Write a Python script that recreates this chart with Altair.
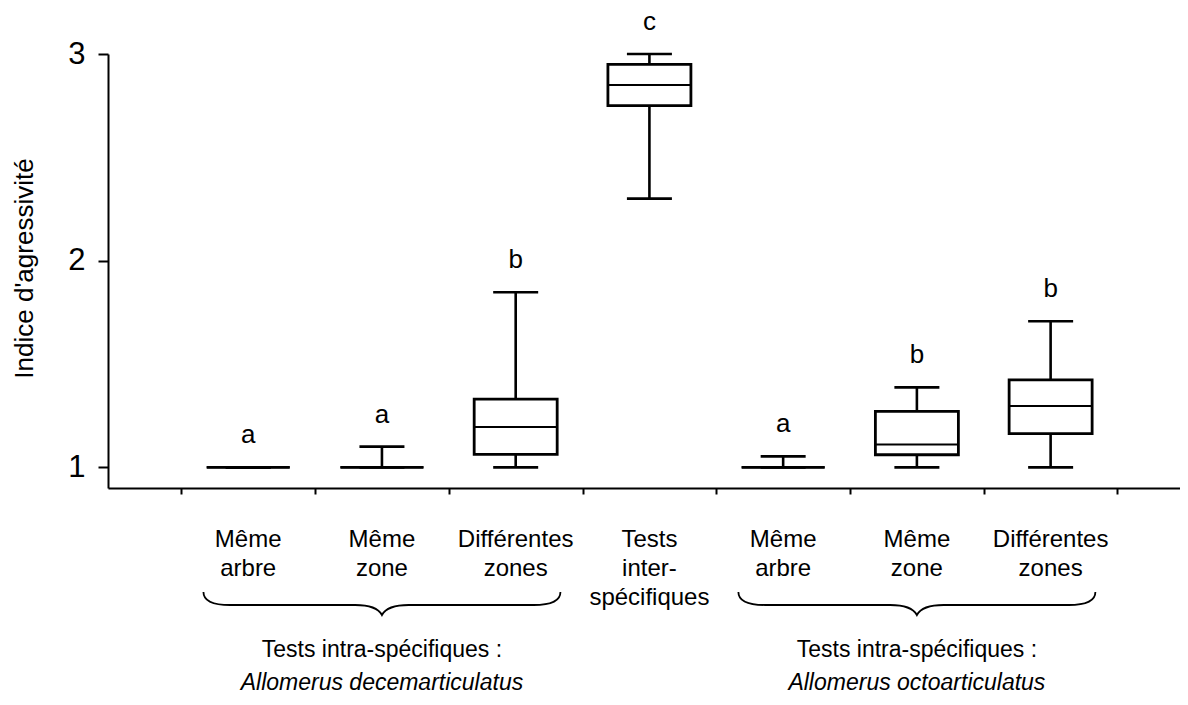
import altair as alt
import pandas as pd

# ---- data ----
positions = [1, 2, 3, 4, 5, 6, 7]
labels = ["Même\narbre", "Même\nzone", "Différentes\nzones", "Tests\ninter-\nspécifiques",
          "Même\narbre", "Même\nzone", "Différentes\nzones"]
mins = [1.0, 1.0, 1.0, 2.30, 1.0, 1.0, 1.0]
q1s = [1.0, 1.0, 1.063, 2.75, 1.0, 1.061, 1.163]
medians = [1.0, 1.0, 1.195, 2.85, 1.0, 1.111, 1.297]
q3s = [1.0, 1.0, 1.33, 2.95, 1.0, 1.271, 1.423]
maxs = [1.0, 1.10, 1.847, 3.0, 1.053, 1.387, 1.707]
letters = ["a", "a", "b", "c", "a", "b", "b"]

group_pos = [2, 6]
group_line1 = ["Tests intra-spécifiques :", "Tests intra-spécifiques :"]
group_line2 = ["Allomerus decemarticulatus", "Allomerus octoarticulatus"]

x_ticks = [0.5, 1.5, 2.5, 3.5, 4.5, 5.5, 6.5, 7.5]
y_ticks = [1.0, 2.0, 3.0]

df = pd.DataFrame({"pos": positions, "label": labels, "min": mins, "q1": q1s,
                   "med": medians, "q3": q3s, "max": maxs, "letter": letters})
gdf = pd.DataFrame({"pos": group_pos, "l1": group_line1, "l2": group_line2})

FONT = "Liberation Sans"

xscale = alt.Scale(domain=[-0.011, 7.93], nice=False, zero=False)
yscale = alt.Scale(domain=[0.9, 3.0], nice=False, zero=False)

X_AXIS = alt.Axis(values=x_ticks, labels=False, title=None, grid=False,
                  tickSize=6, tickWidth=2, tickColor="black",
                  domainColor="black", domainWidth=2)
Y_AXIS = alt.Axis(values=y_ticks, format=".0f", grid=False, labelOverlap=False,
                  labelFlush=False, labelBound=False,
                  tickSize=10, tickWidth=2, tickColor="black",
                  domainColor="black", domainWidth=2,
                  labelFontSize=31, labelColor="black", labelPadding=13,
                  labelFont=FONT,
                  title="Indice d'agressivité", titleFont=FONT,
                  titleFontSize=26, titleFontWeight="normal",
                  titleColor="black", titleAngle=-90,
                  titleX=-84, titleY=214, titleAlign="center",
                  titleBaseline="middle")


def X():
    return alt.X("pos:Q", scale=xscale, axis=X_AXIS)


def Y(field):
    return alt.Y(field, scale=yscale, axis=Y_AXIS)


base = alt.Chart(df)

whisk_low = base.mark_rule(color="black", strokeWidth=2.6).encode(
    x=X(), y=Y("min:Q"), y2="q1:Q")
whisk_high = base.mark_rule(color="black", strokeWidth=2.6).encode(
    x=X(), y=Y("q3:Q"), y2="max:Q")

box = base.mark_bar(size=83, fill="white", stroke="black", strokeWidth=2.8).encode(
    x=X(), y=Y("q1:Q"), y2="q3:Q")

median = base.mark_tick(orient="horizontal", size=83, thickness=2,
                        color="black", opacity=1).encode(
    x=X(), y=Y("med:Q"))

cap_low = base.mark_tick(orient="horizontal", size=45, thickness=2.6,
                         color="black", opacity=1).encode(
    x=X(), y=Y("min:Q"))
cap_high = base.mark_tick(orient="horizontal", size=45, thickness=2.6,
                          color="black", opacity=1).encode(
    x=X(), y=Y("max:Q"))

letter_text = base.mark_text(font=FONT, fontSize=26, color="black",
                             baseline="alphabetic", align="center", dy=-24).encode(
    x=X(), y=Y("max:Q"), text="letter:N")

cat_text = base.mark_text(font=FONT, fontSize=24, color="black", align="center",
                          baseline="alphabetic", lineBreak="\n", lineHeight=29).encode(
    x=X(), y=alt.value(493), text="label:N")

brace_path = ("M -1 -0.073 Q -1 0 -0.85 0 L -0.15 0 Q -0.03 0 0 0.056 "
              "Q 0.03 0 0.15 0 L 0.85 0 Q 1 0 1 -0.073")
braces = alt.Chart(gdf).mark_point(shape=brace_path, size=127449, filled=False,
                                   stroke="black", strokeWidth=1.8, opacity=1).encode(
    x=X(), y=alt.value(551))

g1 = alt.Chart(gdf).mark_text(font=FONT, fontSize=23, color="black", align="center",
                              baseline="alphabetic").encode(
    x=X(), y=alt.value(603), text="l1:N")
g2 = alt.Chart(gdf).mark_text(font=FONT, fontSize=23, color="black", align="center",
                              baseline="alphabetic", fontStyle="italic").encode(
    x=X(), y=alt.value(636), text="l2:N")

chart = alt.layer(whisk_low, whisk_high, box, median, cap_low, cap_high,
                  letter_text, cat_text, braces, g1, g2).properties(
    width=1072, height=434,
    autosize=alt.AutoSizeParams(type="none"),
    padding={"left": 100, "top": 46, "right": 0, "bottom": 209},
    background="white",
).configure(font=FONT).configure_view(strokeWidth=0, stroke="transparent")

chart.save("out.html", embed_options={"renderer": "svg", "actions": False})
